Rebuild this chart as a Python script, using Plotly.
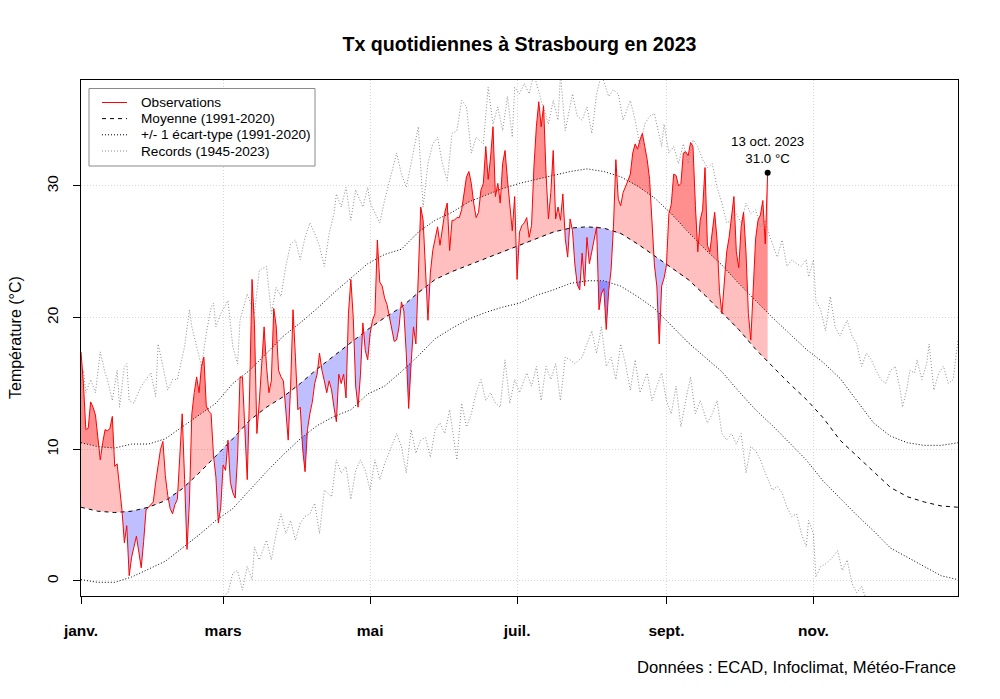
import numpy as np
import plotly.graph_objects as go

# ---------------- data ----------------
obs_jan = [17.4, 15.0, 11.5, 11.6, 13.6, 13.2, 12.6, 11.0, 9.2, 10.5,
           11.5, 11.4, 11.6, 12.5, 8.7, 8.9, 7.0, 5.4, 2.9, 4.2,
           0.4, 1.8, 2.6, 3.4, 2.2, 1.0, 3.0, 5.4, 5.6, 5.8, 6.0]
obs_feb = [7.5, 8.8, 10.0, 10.6, 8.0, 6.5, 5.5, 5.1, 5.8, 6.2,
           9.5, 12.7, 7.7, 2.4, 6.0, 12.7, 14.3, 15.5, 14.3, 16.3,
           17.0, 13.3, 12.9, 12.7, 9.5, 7.9, 4.4, 5.6]
obs_mar = [8.8, 8.4, 10.7, 7.5, 6.7, 6.3, 9.5, 15.5, 15.5, 11.2,
           7.7, 14.5, 22.9, 19.5, 11.2, 13.6, 16.5, 19.3, 16.3, 14.3,
           15.2, 20.7, 19.4, 16.0, 15.5, 15.2, 13.0, 10.7, 14.8, 20.6, 17.0]
obs_apr = [13.0, 13.2, 10.0, 8.3, 11.5, 12.7, 13.6, 15.0, 15.7, 17.3,
           16.0, 15.2, 14.3, 15.2, 14.5, 13.2, 12.1, 15.7, 15.0, 15.7,
           13.9, 20.3, 22.9, 20.0, 14.8, 13.2, 15.7, 19.6, 17.5, 16.8]
obs_may = [18.8, 19.8, 20.3, 25.9, 22.7, 22.4, 21.5, 21.0, 20.0, 19.0,
           18.2, 18.3, 19.3, 21.2, 20.5, 17.3, 13.1, 16.5, 19.3, 18.0,
           23.9, 28.4, 27.4, 23.9, 19.8, 23.4, 25.1, 26.0, 26.9, 25.5, 26.9]
obs_jun = [28.0, 28.7, 25.1, 27.4, 27.4, 27.6, 27.6, 28.2, 29.5, 30.7,
           31.1, 30.2, 28.7, 27.6, 28.0, 29.7, 30.2, 33.0, 30.5, 32.2,
           34.5, 29.2, 30.2, 28.7, 31.7, 32.7, 30.5, 28.7, 26.6, 29.2]
obs_jul = [22.9, 26.5, 27.0, 27.2, 27.6, 26.1, 27.0, 31.5, 34.5, 36.4,
           34.5, 36.1, 31.0, 27.5, 29.5, 32.7, 27.5, 28.4, 27.4, 29.4,
           26.0, 24.6, 27.5, 26.6, 24.0, 22.5, 22.1, 24.9, 22.4, 26.1, 24.1]
obs_aug = [25.0, 25.9, 26.9, 20.6, 21.8, 22.2, 19.1, 22.0, 23.6, 26.9,
           32.0, 29.0, 28.5, 29.5, 29.9, 30.4, 30.9, 32.5, 33.2, 32.8,
           33.5, 34.0, 33.0, 32.0, 30.5, 27.4, 24.0, 22.4, 18.0, 22.4, 23.0]
obs_sep = [24.0, 27.9, 28.6, 30.9, 30.8, 30.0, 30.2, 32.5, 32.6, 32.3,
           33.3, 33.0, 28.5, 25.0, 27.4, 28.2, 31.4, 25.5, 25.0, 26.5,
           28.0, 25.9, 22.0, 20.3, 22.8, 25.0, 26.1, 27.8, 29.2, 25.0]
obs_oct = [23.8, 26.9, 28.0, 25.0, 20.3, 18.3, 21.9, 26.0, 27.4, 27.8,
           28.9, 25.6, 31.0]

clim_days = [1, 8, 15, 22, 29, 36, 43, 50, 57, 64, 71, 78, 85, 92, 99, 106,
             113, 120, 127, 134, 141, 148, 155, 162, 169, 176, 183, 190, 197,
             204, 211, 218, 225, 232, 239, 246, 253, 260, 267, 274, 281, 288,
             295, 302, 309, 316, 323, 330, 337, 344, 351, 358, 365]
clim_mean = [5.6, 5.3, 5.2, 5.3, 5.6, 6.1, 7.0, 8.2, 9.5, 10.8, 12.2, 13.2,
             14.0, 15.0, 16.1, 17.1, 18.1, 19.1, 20.0, 20.8, 21.9, 22.9, 23.5,
             24.0, 24.5, 25.0, 25.5, 26.0, 26.5, 26.8, 26.9, 26.8, 26.4, 25.6,
             24.7, 23.8, 22.9, 21.7, 20.4, 19.1, 17.6, 16.3, 15.0, 13.8, 12.4,
             10.7, 9.5, 8.3, 7.1, 6.4, 6.0, 5.7, 5.6]
clim_upper = [10.5, 10.2, 10.1, 10.4, 10.4, 10.8, 11.7, 12.6, 13.5, 15.0,
              16.0, 17.3, 18.6, 19.6, 20.7, 21.9, 23.0, 24.1, 24.8, 25.2,
              26.5, 27.4, 28.0, 28.8, 29.3, 29.8, 30.2, 30.5, 30.8, 31.1,
              31.3, 31.1, 30.7, 30.0, 29.1, 27.9, 26.5, 25.2, 24.0, 22.6,
              21.3, 20.0, 18.8, 17.6, 16.6, 15.4, 13.7, 12.0, 11.0, 10.5,
              10.3, 10.3, 10.5]
clim_lower = [0.1, -0.1, -0.1, 0.3, 0.9, 1.5, 2.5, 3.5, 4.6, 5.5, 6.9, 8.3,
              9.6, 10.8, 11.8, 12.5, 13.0, 14.2, 14.8, 15.9, 17.1, 18.4, 19.2,
              19.9, 20.4, 20.8, 21.1, 21.7, 22.1, 22.6, 22.8, 22.8, 22.4, 21.6,
              20.7, 19.4, 18.1, 17.0, 15.9, 14.4, 13.0, 11.8, 10.5, 9.2, 7.6,
              6.3, 5.0, 3.8, 2.5, 1.8, 1.1, 0.4, 0.1]

recmax_days = [1, 2, 3, 5, 7, 9, 11, 12, 14, 16, 17, 19, 20, 21, 23, 24, 26,
               28, 30, 32, 33, 35, 37, 39, 41, 43, 44, 46, 47, 49, 51, 53, 55,
               56, 57, 59, 62, 64, 66, 67, 70, 73, 75, 78, 80, 82, 84, 86, 88,
               90, 92, 94, 96, 98, 100, 102, 104, 106, 107, 109, 111, 113, 115,
               118, 120, 121, 123, 125, 127, 129, 132, 134, 136, 138, 141, 143,
               145, 147, 149, 151, 153, 155, 157, 159, 161, 163, 165, 168, 170,
               172, 174, 176, 178, 180, 181, 183, 185, 187, 189, 192, 195, 197,
               199, 200, 202, 205, 207, 209, 211, 213, 215, 217, 220, 222, 224,
               226, 229, 231, 233, 235, 237, 239, 240, 242, 243, 245, 247, 249,
               251, 253, 255, 257, 259, 261, 263, 265, 267, 269, 271, 273, 275,
               277, 279, 281, 283, 285, 287, 290, 292, 294, 296, 298, 300, 302,
               303, 305, 306, 308, 310, 312, 314, 316, 319, 321, 323, 325, 327,
               329, 331, 333, 335, 337, 339, 341, 342, 344, 345, 347, 348, 350,
               352, 353, 355, 357, 359, 361, 363, 365]
recmax_vals = [15.0, 16.0, 14.3, 15.3, 14.3, 17.4, 15.8, 15.3, 13.7, 16.0,
               13.2, 16.3, 16.5, 13.7, 13.5, 14.0, 14.8, 15.3, 15.8, 14.0,
               18.0, 16.3, 14.5, 15.3, 15.3, 17.0, 17.8, 20.6, 19.3, 17.8,
               16.3, 18.8, 20.8, 21.1, 19.3, 20.3, 21.3, 17.8, 16.5, 19.8,
               21.8, 20.3, 23.6, 23.9, 20.3, 22.3, 21.6, 23.9, 25.6, 25.9,
               24.4, 26.1, 27.2, 26.4, 25.4, 23.9, 26.4, 27.9, 29.4, 28.4,
               29.9, 27.4, 29.7, 28.4, 29.9, 28.7, 27.9, 27.2, 28.9, 30.4,
               32.5, 30.9, 29.9, 31.7, 34.5, 28.4, 31.7, 33.2, 33.7, 31.7,
               30.4, 34.0, 34.2, 36.5, 36.0, 32.5, 33.7, 33.2, 37.5, 34.7,
               36.0, 34.2, 36.8, 33.7, 37.5, 37.0, 37.8, 37.0, 38.5, 36.5,
               34.7, 36.5, 35.0, 38.5, 34.2, 37.0, 35.3, 35.0, 36.0, 34.0,
               37.0, 38.5, 36.8, 37.3, 37.0, 35.0, 36.5, 35.0, 33.0, 34.7,
               35.3, 35.5, 34.7, 33.0, 34.7, 32.5, 33.0, 31.7, 33.2, 31.7,
               33.5, 33.0, 32.0, 31.4, 31.7, 29.9, 28.7, 27.2, 27.4, 27.9,
               27.2, 28.7, 27.9, 28.2, 26.9, 27.4, 26.1, 24.6, 25.9, 23.9,
               24.4, 24.1, 23.9, 24.4, 23.1, 24.4, 21.3, 20.6, 19.0, 21.6,
               19.3, 18.6, 19.8, 18.6, 18.0, 16.3, 17.3, 16.8, 16.0, 15.3,
               15.0, 16.0, 16.3, 14.5, 13.2, 14.8, 16.0, 15.8, 16.8, 15.3,
               16.5, 18.0, 14.5, 15.8, 16.3, 15.0, 15.3, 18.3]

recmin_days = [56, 59, 62, 64, 66, 68, 70, 72, 73, 75, 78, 80, 82, 84, 86, 88,
               90, 92, 94, 96, 98, 100, 102, 105, 107, 109, 111, 113, 115, 117,
               119, 121, 123, 125, 127, 130, 132, 134, 136, 138, 140, 142, 144,
               146, 148, 150, 152, 154, 157, 159, 161, 163, 165, 167, 169, 171,
               173, 175, 177, 179, 181, 183, 186, 188, 190, 192, 194, 196, 198,
               200, 202, 204, 206, 209, 211, 213, 215, 217, 219, 221, 223, 225,
               227, 229, 231, 233, 236, 238, 240, 242, 244, 246, 248, 250, 252,
               254, 256, 258, 261, 263, 265, 267, 269, 271, 273, 275, 277, 279,
               281, 283, 285, 288, 290, 292, 294, 296, 298, 300, 302, 303, 305,
               306, 308, 310, 312, 315, 317, 319, 321, 323, 325, 327, 329]
recmin_vals = [-2.0, -1.3, -0.9, 0.6, 0.8, -0.7, 1.1, 0.1, 2.6, 1.6, 3.1, 1.6,
               3.6, 5.1, 3.6, 4.6, 3.1, 4.4, 4.9, 5.1, 5.9, 3.6, 6.9, 6.4, 9.2,
               8.2, 8.7, 6.2, 8.4, 9.2, 8.4, 6.9, 9.2, 7.7, 8.9, 10.2, 11.2,
               10.2, 8.2, 11.5, 9.7, 10.7, 10.9, 9.4, 11.5, 12.0, 11.2, 13.0,
               9.2, 13.5, 11.7, 12.7, 14.3, 15.3, 13.7, 14.3, 13.5, 13.2, 16.8,
               13.5, 15.3, 14.3, 15.8, 14.8, 16.3, 13.7, 16.3, 15.3, 16.5, 13.7,
               17.0, 16.8, 16.5, 17.0, 18.0, 19.0, 17.3, 19.3, 16.3, 17.0, 15.3,
               18.0, 16.5, 14.5, 16.8, 14.3, 15.8, 13.7, 14.8, 15.8, 13.7, 12.7,
               14.8, 11.7, 13.7, 15.5, 12.7, 13.7, 12.0, 12.7, 13.7, 11.2, 10.7,
               11.2, 10.4, 11.2, 8.2, 10.2, 9.9, 9.2, 8.2, 6.9, 7.2, 6.7, 5.6,
               4.9, 5.1, 3.6, 2.6, 4.6, 3.6, 0.3, 1.1, 1.3, 1.6, 2.3, 0.8, 1.6,
               -0.2, -0.9, -0.4, -1.5, -2.5]

month_tick_days = [1, 60, 121, 182, 244, 305]
month_tick_labels = ["janv.", "mars", "mai", "juil.", "sept.", "nov."]
y_ticks = [0, 10, 20, 30]

legend_labels = ["Observations", "Moyenne (1991-2020)",
                 "+/- 1 écart-type (1991-2020)", "Records (1945-2023)"]
last_label = "13 oct. 2023"

# ---------------- derived ----------------
obs = (obs_jan + obs_feb + obs_mar + obs_apr + obs_may + obs_jun +
       obs_jul + obs_aug + obs_sep + obs_oct)
obs_days = np.arange(1, len(obs) + 1)
obs_arr = np.array(obs, dtype=float)
mean_at_obs = np.interp(obs_days, clim_days, clim_mean)
upper_at_obs = np.interp(obs_days, clim_days, clim_upper)
lower_at_obs = np.interp(obs_days, clim_days, clim_lower)


def band(xs, a, b, above):
    X, A, B = [], [], []
    for i in range(len(xs)):
        if i > 0:
            d0 = a[i - 1] - b[i - 1]
            d1 = a[i] - b[i]
            if d0 * d1 < 0:
                t = d0 / (d0 - d1)
                xc = xs[i - 1] + t * (xs[i] - xs[i - 1])
                bc = b[i - 1] + t * (b[i] - b[i - 1])
                X.append(xc); A.append(bc); B.append(bc)
        X.append(xs[i]); A.append(a[i]); B.append(b[i])
    A = np.array(A); B = np.array(B)
    top = np.maximum(A, B) if above else np.minimum(A, B)
    return X, B, top


RED = "rgba(255,0,0,0.25)"
BLUE = "rgba(0,0,255,0.25)"
REC = "#8c8c8c"
DOT = "1px,2px"
DASH = "4px,4px"

fig = go.Figure()

for ref, above, col in [(mean_at_obs, True, RED), (upper_at_obs, True, RED),
                        (mean_at_obs, False, BLUE), (lower_at_obs, False, BLUE)]:
    X, B, T = band(obs_days.astype(float), obs_arr, ref, above)
    fig.add_trace(go.Scatter(x=X, y=B, mode="lines", line=dict(width=0),
                             showlegend=False, hoverinfo="skip"))
    fig.add_trace(go.Scatter(x=X, y=T, mode="lines", line=dict(width=0),
                             fill="tonexty", fillcolor=col,
                             showlegend=False, hoverinfo="skip"))

fig.add_trace(go.Scatter(x=recmax_days, y=recmax_vals, mode="lines",
                         line=dict(color=REC, width=1, dash=DOT),
                         showlegend=False))
fig.add_trace(go.Scatter(x=recmin_days, y=recmin_vals, mode="lines",
                         line=dict(color=REC, width=1, dash=DOT),
                         showlegend=False))
fig.add_trace(go.Scatter(x=clim_days, y=clim_upper, mode="lines",
                         line=dict(color="black", width=1, dash=DOT),
                         showlegend=False))
fig.add_trace(go.Scatter(x=clim_days, y=clim_lower, mode="lines",
                         line=dict(color="black", width=1, dash=DOT),
                         showlegend=False))
fig.add_trace(go.Scatter(x=clim_days, y=clim_mean, mode="lines",
                         line=dict(color="black", width=1, dash=DASH),
                         showlegend=False))
fig.add_trace(go.Scatter(x=obs_days, y=obs, mode="lines",
                         line=dict(color="#ff0000", width=1),
                         showlegend=False))
fig.add_trace(go.Scatter(x=[obs_days[-1]], y=[obs[-1]], mode="markers",
                         marker=dict(color="black", size=6),
                         showlegend=False))

FONT = "Liberation Sans, Arial, Helvetica, sans-serif"

# plot area in page pixels: x 81..958, y 80..596
L, R, T0, B0 = 81, 958, 80, 596


def px(x):
    return (x - L) / (R - L)


def py(y):
    return 1 - (y - T0) / (B0 - T0)


# manual legend (R style)
shapes = [dict(type="rect", xref="paper", yref="paper",
               x0=px(89), x1=px(315), y0=py(88.5), y1=py(166),
               line=dict(color="#8a8a8a", width=1), fillcolor="white",
               layer="above")]
leg_styles = [dict(color="#ff0000", width=1),
              dict(color="black", width=1, dash=DASH),
              dict(color="black", width=1, dash=DOT),
              dict(color=REC, width=1, dash=DOT)]
row_y = [102.5, 118.6, 134.8, 151.0]
annotations = []
for lab, st, yy in zip(legend_labels, leg_styles, row_y):
    shapes.append(dict(type="line", xref="paper", yref="paper",
                       x0=px(102), x1=px(127), y0=py(yy), y1=py(yy),
                       line=st, layer="above"))
    annotations.append(dict(text=lab, xref="paper", yref="paper",
                            x=px(138.5), y=py(yy), xanchor="left",
                            yanchor="middle", showarrow=False,
                            font=dict(size=13.6)))

annotations += [
    dict(text="Température (°C)", xref="paper", yref="paper",
         x=px(15), y=0.5, textangle=-90, showarrow=False,
         xanchor="center", yanchor="middle", font=dict(size=16)),
    dict(text="Données : ECAD, Infoclimat, Météo-France", xref="paper",
         yref="paper", x=1, y=py(667), showarrow=False,
         xanchor="right", yanchor="middle", font=dict(size=16.6)),
    dict(text="%s<br>%.1f °C" % (last_label, obs[-1]), x=obs_days[-1],
         y=obs[-1], xref="x", yref="y", showarrow=False,
         xanchor="center", yanchor="bottom", yshift=5,
         font=dict(size=13.3)),
]

fig.update_layout(
    width=1000, height=699,
    margin=dict(l=L, r=1000 - R, t=T0, b=699 - B0),
    paper_bgcolor="white", plot_bgcolor="white",
    font=dict(family=FONT, color="black", size=14),
    showlegend=False,
    title=dict(text="<b>Tx quotidiennes à Strasbourg en 2023</b>",
               x=0.5, xref="paper", xanchor="center",
               y=1 - 44 / 699, yref="container", yanchor="middle",
               font=dict(size=19.6, family=FONT, color="black")),
    xaxis=dict(range=[1, 365], tickvals=month_tick_days,
               ticktext=["<b>%s</b>" % t for t in month_tick_labels],
               ticks="outside", ticklen=7, tickcolor="black", tickwidth=1,
               showline=True, mirror=True, linecolor="black", linewidth=1,
               showgrid=True, gridcolor="#d6d6d6", griddash="1px,2px",
               zeroline=False, tickfont=dict(size=15.5), ticklabelstandoff=13),
    yaxis=dict(range=[-1.14, 38.05], tickvals=y_ticks,
               ticks="outside", ticklen=7, tickcolor="black", tickwidth=1,
               tickangle=-90,
               showline=True, mirror=True, linecolor="black", linewidth=1,
               showgrid=True, gridcolor="#d6d6d6", griddash="1px,2px",
               zeroline=False, tickfont=dict(size=15.5), ticklabelstandoff=9),
    shapes=shapes,
    annotations=annotations,
)

fig.write_html("out.html", config={"displayModeBar": False},
               post_script="document.body.style.margin='0';")
